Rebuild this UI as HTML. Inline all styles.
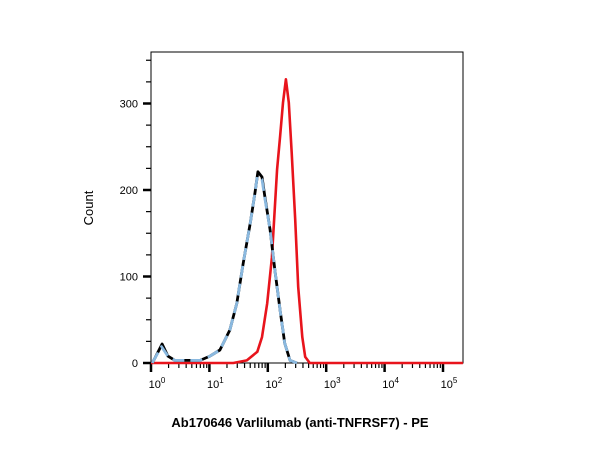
<!DOCTYPE html>
<html><head><meta charset="utf-8"><style>
html,body{margin:0;padding:0;background:#fff;}
svg{display:block;font-family:"Liberation Sans",Arial,sans-serif;}
</style></head><body>
<svg id="chart" width="600" height="450" viewBox="0 0 600 450">
<rect x="151" y="52" width="312" height="311" fill="none" stroke="#000" stroke-width="1"/>
<g id="axes"></g>
<g id="series"></g>
<text x="93" y="208" font-size="13" text-anchor="middle" transform="rotate(-90 93 208)">Count</text>
<text x="300" y="427" font-size="13" font-weight="bold" text-anchor="middle">Ab170646 Varlilumab (anti-TNFRSF7) - PE</text>
</svg>
<script>
const yTicks=[0,100,200,300];
const xDecades=[0,1,2,3,4,5];
const blackX=[0.02,0.07,0.19,0.29,0.41,0.67,0.84,1.01,1.18,1.35,1.47,1.58,1.70,1.78,1.83,1.90,1.95,2.04,2.12,2.21,2.29,2.38,2.50];
const blackY=[0,6,22,8,3,3,3,8,15,38,69,116,162,197,221,215,192,154,108,61,23,3,0];
const blueX=[0.02,0.07,0.18,0.29,0.41,0.67,0.84,1.01,1.18,1.35,1.47,1.58,1.70,1.78,1.82,1.90,1.95,2.04,2.12,2.21,2.29,2.38,2.50];
const blueY=[0,6,19,8,3,3,3,8,15,38,69,116,162,197,216,212,190,154,108,61,23,3,0];
const redX=[0,1.41,1.64,1.82,1.90,1.99,2.07,2.16,2.21,2.26,2.31,2.36,2.41,2.47,2.52,2.59,2.64,2.72,5.34];
const redY=[0,0,3,13,30,69,122,224,262,301,328,301,243,166,88,30,7,0,0];

const NS="http://www.w3.org/2000/svg";
const X0=151,XS=58.4,Y0=363,YS=0.865;
const xp=v=>X0+v*XS, yp=c=>Y0-c*YS;
const axes=document.getElementById('axes'), ser=document.getElementById('series');
function mk(tag,attrs,parent){const e=document.createElementNS(NS,tag);for(const k in attrs)e.setAttribute(k,attrs[k]);parent.appendChild(e);return e;}
for(let c=0;c<=350;c+=25){
  const major=yTicks.includes(c);
  const t=mk('line',{x1:major?143:146,x2:151,y1:yp(c),y2:yp(c),stroke:'#000','stroke-width':major?2.5:1.2},axes);
  
  
}
yTicks.forEach(c=>{
  const t=mk('text',{x:138,y:yp(c)+4,'font-size':11,'text-anchor':'end'},axes);
  t.textContent=c;
  
  
});
xDecades.forEach(d=>{
  const t=mk('line',{x1:xp(d),x2:xp(d),y1:363,y2:372,stroke:'#000','stroke-width':2.5},axes);
  
  
  const lb=mk('text',{x:xp(d)+6,y:388,'font-size':11,'text-anchor':'middle'},axes);
  lb.innerHTML='10<tspan dy="-5" font-size="8">'+d+'</tspan>';
  
  
  if(d<5){for(let m=2;m<=9;m++){
    const v=d+Math.log10(m);
    const mt=mk('line',{x1:xp(v),x2:xp(v),y1:363,y2:368,stroke:'#000','stroke-width':1.2},axes);
    
    
  }}
});
function path(xs,ys,attrs,name){
  const d=xs.map((v,i)=>(i?'L':'M')+xp(v).toFixed(1)+','+yp(ys[i]).toFixed(1)).join(' ');
  const p=mk('path',Object.assign({d:d,fill:'none','stroke-linejoin':'round'},attrs),ser);
  
  
}
path(redX,redY,{stroke:'#e8141c','stroke-width':2.6},'red-histogram');
path(blackX,blackY,{stroke:'#000','stroke-width':2.8},'black-histogram');
path(blueX,blueY,{stroke:'#8ab9e0','stroke-width':2.8,'stroke-dasharray':'12,6'},'blue-dashed-histogram');
</script>
</body></html>
